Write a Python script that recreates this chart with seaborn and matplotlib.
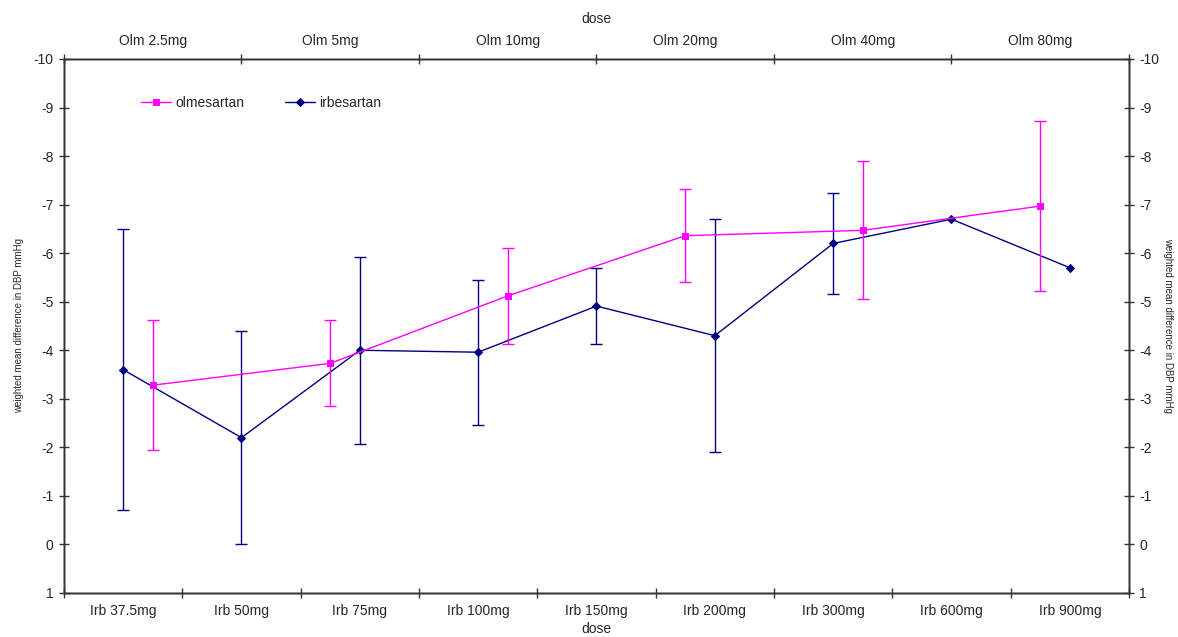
import matplotlib

matplotlib.use("Agg")
import matplotlib.pyplot as plt
import numpy as np
import pandas as pd
import seaborn as sns
from matplotlib import ticker

# bottom axis: irbesartan doses
irb_doses = ["Irb 37.5mg", "Irb 50mg", "Irb 75mg", "Irb 100mg", "Irb 150mg",
             "Irb 200mg", "Irb 300mg", "Irb 600mg", "Irb 900mg"]
irb_mean = [-3.6, -2.2, -4.0, -3.96, -4.91, -4.30, -6.20, -6.70, -5.70]
irb_upper = [-6.5, -4.4, -5.93, -5.45, -5.70, -6.70, -7.23, np.nan, np.nan]
irb_lower = [-0.7, 0.0, -2.07, -2.47, -4.12, -1.90, -5.16, np.nan, np.nan]

# top axis: olmesartan doses
olm_doses = ["Olm 2.5mg", "Olm 5mg", "Olm 10mg", "Olm 20mg", "Olm 40mg", "Olm 80mg"]
olm_mean = [-3.28, -3.73, -5.12, -6.36, -6.47, -6.97]
olm_upper = [-4.62, -4.62, -6.11, -7.32, -7.90, -8.73]
olm_lower = [-1.95, -2.85, -4.13, -5.40, -5.05, -5.22]

OLM_COLOR = "#FF00FF"
IRB_COLOR = "#000080"
YLABEL = "weighted mean difference in DBP mmHg"


def setup_cat_axis(axis, labels):
    n = len(labels)
    axis.set_major_locator(ticker.FixedLocator(np.arange(n + 1) - 0.5))
    axis.set_major_formatter(ticker.NullFormatter())
    axis.set_minor_locator(ticker.FixedLocator(np.arange(n)))
    axis.set_minor_formatter(ticker.FixedFormatter(labels))


sns.set_theme(style="white")
plt.rcParams["font.family"] = ["Liberation Sans", "DejaVu Sans"]
plt.rcParams["axes.unicode_minus"] = False

irb_df = pd.DataFrame({"pos": np.arange(len(irb_doses)), "mean": irb_mean,
                       "upper": irb_upper, "lower": irb_lower})
olm_df = pd.DataFrame({"pos": np.arange(len(olm_doses)), "mean": olm_mean,
                       "upper": olm_upper, "lower": olm_lower})

fig = plt.figure(figsize=(11.78, 6.37), dpi=100)
ax = fig.add_axes([0.0543, 0.0691, 0.9041, 0.8383])
ax_top = ax.twiny()
ax_right = ax.twinx()

# irbesartan on bottom axis
sns.lineplot(data=irb_df, x="pos", y="mean", ax=ax, color=IRB_COLOR,
             marker="D", markersize=4.5, markeredgecolor=IRB_COLOR, linewidth=1,
             label="irbesartan", legend=False)
ok = irb_df["upper"].notna()
ax.errorbar(irb_df.loc[ok, "pos"], irb_df.loc[ok, "mean"],
            yerr=[irb_df.loc[ok, "mean"] - irb_df.loc[ok, "upper"],
                  irb_df.loc[ok, "lower"] - irb_df.loc[ok, "mean"]],
            fmt="none", ecolor=IRB_COLOR, elinewidth=1, capsize=4, capthick=1)

# olmesartan on top axis
sns.lineplot(data=olm_df, x="pos", y="mean", ax=ax_top, color=OLM_COLOR,
             marker="s", markersize=4, markeredgecolor=OLM_COLOR, linewidth=1,
             label="olmesartan", legend=False)
ax_top.errorbar(olm_df["pos"], olm_df["mean"],
                yerr=[olm_df["mean"] - olm_df["upper"],
                      olm_df["lower"] - olm_df["mean"]],
                fmt="none", ecolor=OLM_COLOR, elinewidth=1, capsize=4, capthick=1)

ax.set_xlim(-0.5, len(irb_doses) - 0.5)
ax_top.set_xlim(-0.5, len(olm_doses) - 0.5)
for a in (ax, ax_top, ax_right):
    a.set_ylim(1, -10)
    a.yaxis.set_major_locator(ticker.MultipleLocator(1))

setup_cat_axis(ax.xaxis, irb_doses)
setup_cat_axis(ax_top.xaxis, olm_doses)

ax.tick_params(axis="x", which="major", direction="inout", length=7, width=1,
               color="#333333", bottom=True)
ax.tick_params(axis="x", which="minor", length=0, labelsize=10, pad=8, bottom=True)
ax_top.tick_params(axis="x", which="major", direction="inout", length=7, width=1,
                   color="#333333", top=True)
ax_top.tick_params(axis="x", which="minor", length=0, labelsize=10, pad=8, top=True)
ax.tick_params(axis="y", direction="inout", length=7, width=1, color="#333333",
               left=True, labelsize=10, pad=4)
ax_right.tick_params(axis="y", direction="inout", length=7, width=1, color="#333333",
                     right=True, labelsize=10, pad=4)

for a in (ax, ax_top, ax_right):
    for sp in a.spines.values():
        sp.set_color("#333333")
        sp.set_linewidth(1)

ax.set_xlabel("dose", fontsize=10, labelpad=3)
ax_top.set_xlabel("dose", fontsize=10, labelpad=8)
ax.set_ylabel(YLABEL, fontsize=7, labelpad=7)
ax_right.set_ylabel(YLABEL, fontsize=7, rotation=-90, labelpad=10)

handles = ax_top.get_lines()[:1] + ax.get_lines()[:1]
ax.legend(handles, ["olmesartan", "irbesartan"], loc="center left",
          bbox_to_anchor=(0.061, 0.918), ncol=2, frameon=False, fontsize=10,
          handlelength=2.15, handletextpad=0.3, columnspacing=2.9)

fig.savefig("out.png", dpi=100)
plt.close(fig)
